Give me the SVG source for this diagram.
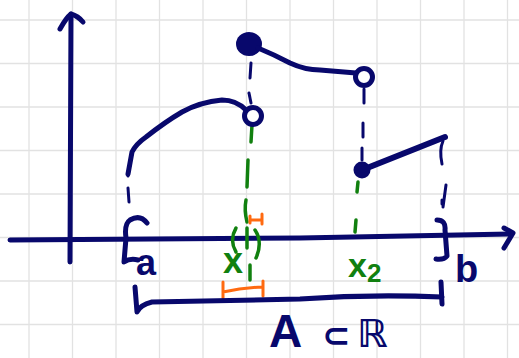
<svg xmlns="http://www.w3.org/2000/svg" width="519" height="358" viewBox="0 0 519 358">
<style>
.grid{stroke:#e2e2e2;stroke-width:1.3;fill:none}
.ink{stroke:#08086c;fill:none;stroke-linecap:round;stroke-linejoin:round}
.ax{stroke-width:5}
.crv{stroke-width:5}
.dash{stroke-width:3}
.grn{stroke:#11800f;fill:none;stroke-linecap:round;stroke-width:3.5}
.org{stroke:#ff6a10;fill:none;stroke-linecap:round;stroke-width:3}
.lbl{font-family:"Liberation Sans",Arial,sans-serif;font-weight:bold}
.navyt{fill:#08086c}
.greent{fill:#11800f}
</style>
<rect width="519" height="358" fill="#ffffff"/>
<g id="grid" class="grid">
<path d="M29,0V358M72.5,0V358M116,0V358M159.5,0V358M203,0V358M246.5,0V358M290,0V358M333.5,0V358M377,0V358M420.5,0V358M464,0V358M507.5,0V358"/>
<path d="M0,20H519M0,63.5H519M0,107H519M0,150.5H519M0,194H519M0,237.5H519M0,281H519M0,324.5H519"/>
</g>
<g id="axes" class="ink ax">
<path d="M70,262 L71,14"/>
<path d="M60,29 Q66,18 71,14 Q78,16 83,22"/>
<path d="M10,240 L300,238 L512,234"/>
<path d="M504,228 L513,233 L504,248"/>
</g>
<g id="connectors">
<g class="ink dash">
<path d="M128,176 L132,152"/>
<path d="M128,188 L129,202"/>
<path d="M251,63 L250,78"/>
<path d="M249,93 L251,103"/>
<path d="M364,89 L364,103"/>
<path d="M363,123 L363,137"/>
<path d="M362,148 L362,160"/>
<path d="M443,141 Q439,150 442,164"/>
<path d="M442,200 L442,204"/>
<path d="M446,185 L443,207"/>
</g>
<g class="grn">
<path d="M252,125 L251,142"/>
<path d="M248,160 L247,187"/>
<path d="M246,200 Q244,210 247,222"/>
<path d="M247,228 L247,248"/>
<path d="M250,265 L250,280"/>
<path d="M358,182 L357,192"/>
<path d="M356,220 L355,232"/>
<path d="M236,228 Q229,240 236,252"/>
<path d="M255,230 Q263,242 256,258"/>
</g>
<g class="org">
<path d="M250,216 L250,223 M250,220 L262,220 M262,214 L262,224"/>
<path d="M223,282 L223,298 M223,292 Q242,288 262,287 M263,281 L263,296"/>
</g>
<g class="ink crv">
<path d="M135,287 L137,312 Q140,305 152,302 L300,299 Q370,294 442,297"/>
<path d="M441,282 L442,304"/>
</g>
</g>
<g id="piece1" class="ink crv">
<path d="M128,174 L132,152 Q136,144 146,137 Q165,122 182,112 Q200,102 222,100 Q236,100 246,110"/>
<circle cx="253" cy="116" r="8.5"/>
</g>
<g id="piece2">
<ellipse cx="249" cy="44" rx="13" ry="12" fill="#08086c"/>
<path class="ink crv" d="M258,48 Q275,55 290,63 Q305,70 320,70 L356,73"/>
<circle class="ink crv" cx="364" cy="77" r="8.5"/>
</g>
<g id="piece3">
<circle cx="362" cy="170" r="8.5" fill="#08086c"/>
<path class="ink" stroke-width="6" d="M362,170 L445,137"/>
</g>
<g id="bracket-a">
<path class="ink crv" d="M147,223 Q140,214 130,220 Q124,224 126,238 L124,262 Q130,258 138,260"/>
<text class="lbl navyt" x="136" y="275" font-size="36">a</text>
</g>
<g id="bracket-b">
<path class="ink crv" d="M437,220 Q446,220 445,230 L447,256 Q444,260 436,259"/>
<text class="lbl navyt" x="455" y="282" font-size="38">b</text>
</g>
<g id="label-x1">
<text class="lbl greent" x="223" y="273" font-size="36">x</text>
</g>
<g id="label-x2">
<text class="lbl greent" x="348" y="277" font-size="34">x</text>
<text class="lbl greent" x="367" y="282" font-size="26">2</text>
</g>
<g id="set-label">
<text class="lbl navyt" x="269" y="347" font-size="46">A</text>
<text class="navyt" x="322" y="347" font-size="34" font-weight="bold" font-family="DejaVu Sans, sans-serif">⊂</text>
<text class="navyt" x="357" y="347" font-size="38" font-weight="bold" font-family="DejaVu Sans, sans-serif">ℝ</text>
</g>
</svg>
